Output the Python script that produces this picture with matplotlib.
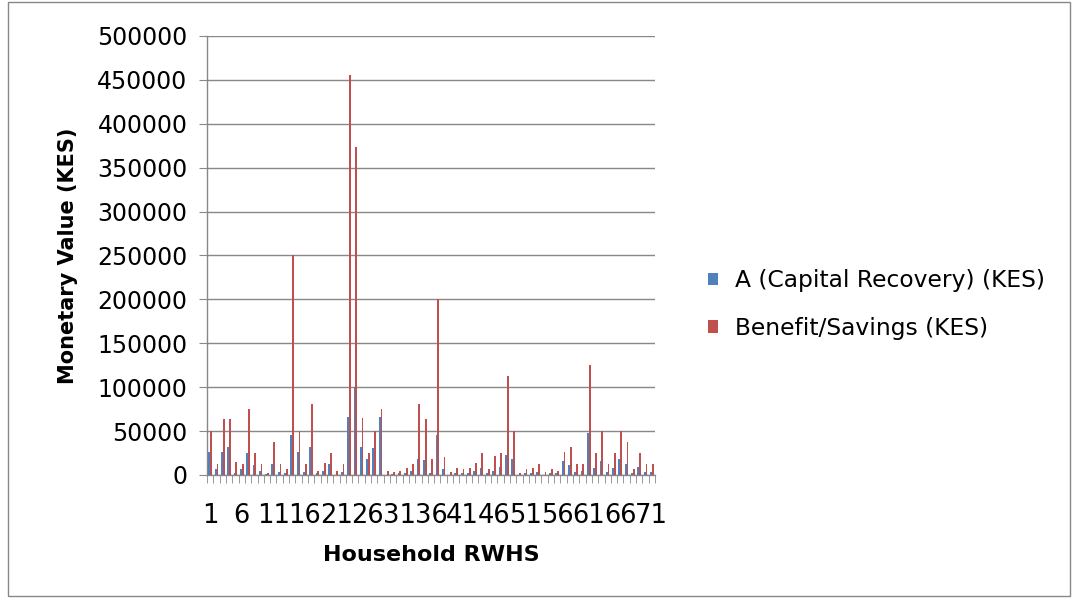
import numpy as np
import matplotlib
matplotlib.use("Agg")
import matplotlib.pyplot as plt
from matplotlib.patches import Rectangle

# households 1..71
households = list(range(1, 72))

capital_recovery = [
    26500, 6500, 26500, 32300, 2000, 6500, 25000, 10800, 5000, 800,
    12700, 3000, 2000, 46000, 26500, 3500, 32300, 2000, 5000, 12700,
    400, 3500, 66000, 100000, 32300, 18500, 30800, 66200, 400, 800,
    2000, 2000, 5000, 18500, 17000, 2000, 46000, 6500, 400, 2000,
    2000, 2000, 5000, 8000, 2000, 5000, 9200, 23000, 18500, 300,
    2000, 2000, 3500, 400, 2000, 2000, 15400, 10800, 3500, 5000,
    47700, 8000, 15800, 3500, 8000, 18500, 12700, 2000, 9600, 3500,
    3500,
]

benefit_savings = [
    49700, 12700, 63500, 63500, 14600, 12700, 75500, 25000, 12700, 2300,
    37000, 12700, 6500, 250000, 49700, 12700, 80500, 5000, 14200, 25000,
    5000, 12700, 456000, 374000, 64700, 25000, 49700, 75500, 5000, 3500,
    5000, 8000, 12700, 80500, 63500, 18500, 200000, 20400, 3500, 8000,
    6500, 8000, 14200, 25000, 6500, 21500, 25000, 113000, 49700, 2000,
    6500, 8000, 12700, 3500, 6500, 5000, 26500, 32300, 12700, 12700,
    125000, 25000, 49700, 12700, 25000, 49700, 37000, 6500, 25000, 12700,
    12700,
]

series_names = ["A (Capital Recovery) (KES)", "Benefit/Savings (KES)"]
y_ticks = list(range(0, 500001, 50000))

BLUE = "#4F81BD"
RED = "#C0504D"
GRID = "#888888"

plt.rcParams["font.family"] = ["DejaVu Sans"]

fig = plt.figure(figsize=(10.75, 6.01), dpi=100)
ax = fig.add_axes([0.1926, 0.2097, 0.4167, 0.7304])

x = np.arange(len(households))
w = 1 / 3.5
ax.bar(x - w / 2, capital_recovery, width=w, color=BLUE, label=series_names[0], zorder=3)
ax.bar(x + w / 2, benefit_savings, width=w, color=RED, label=series_names[1], zorder=3)

ax.set_xlim(-0.5, len(households) - 0.5)
ax.set_ylim(0, 500000)
ax.set_yticks(y_ticks)
ax.set_yticklabels([str(v) for v in y_ticks], fontsize=17)
ax.yaxis.grid(True, color=GRID, linewidth=1, zorder=0)
ax.tick_params(axis="y", length=6, color=GRID, pad=8)

# labels every 5th household, tick marks at category boundaries
ax.set_xticks(x[::5])
ax.set_xticklabels([str(h) for h in households[::5]], fontsize=18.5)
ax.tick_params(axis="x", which="major", length=0, pad=20)
ax.set_xticks(np.arange(-0.5, len(households)), minor=True)
ax.tick_params(axis="x", which="minor", length=6, color=GRID)

for s in ["top", "right"]:
    ax.spines[s].set_visible(False)
for s in ["left", "bottom"]:
    ax.spines[s].set_color(GRID)
    ax.spines[s].set_linewidth(1)

ax.set_ylabel("Monetary Value (KES)", fontsize=15, fontweight="bold", labelpad=14)
ax.set_xlabel("Household RWHS", fontsize=16, fontweight="bold", labelpad=12)

leg = fig.legend(loc="center left", bbox_to_anchor=(0.639, 0.493), frameon=False,
                 fontsize=16.8, handlelength=0.45, handleheight=0.45,
                 labelspacing=1.05, handletextpad=0.7)

fig.patches.append(Rectangle((8 / 1075, 5 / 601), 1062 / 1075, 594 / 601,
                             transform=fig.transFigure, fill=False,
                             edgecolor=GRID, linewidth=1))

fig.savefig("out.png", dpi=100)
